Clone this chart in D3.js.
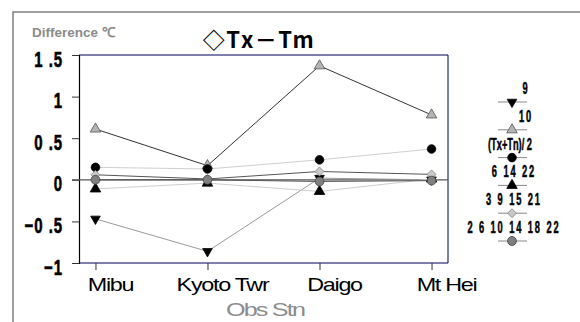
<!DOCTYPE html>
<html><head><meta charset="utf-8">
<script src="https://cdn.jsdelivr.net/npm/d3@7"></script>
<style>
body{margin:0;background:#fff;}
svg{display:block;}
</style></head>
<body>
<svg id="c" width="580" height="322"></svg>
<script>
const stations = ["Mibu", "Kyoto Twr", "Daigo", "Mt Hei"];
const seriesNames = ["9", "10", "(Tx+Tn)/ 2", "6 14 22", "3 9 15 21", "2 6 10 14 18 22"];
const s9 = [-0.47, -0.86, 0.02, 0.0];
const s10 = [0.61, 0.17, 1.37, 0.78];
const sAvg = [0.15, 0.13, 0.24, 0.37];
const s6_14_22 = [-0.11, -0.04, -0.14, 0.01];
const s3_9_15_21 = [0.06, 0.01, 0.10, 0.065];
const s2_6_10 = [0.0, 0.0, -0.02, -0.01];
const yTicks = [-1, -0.5, 0, 0.5, 1, 1.5];
const yTickLabels = ["\u22121", "\u22120 .5", "0", "0 .5", "1", "1 .5"];
const titleText = "\u25C7Tx\uFF0DTm";
const yTitle = "Difference \u2103";
const xTitle = "Obs Stn";

const seriesValues = [s9, s10, sAvg, s6_14_22, s3_9_15_21, s2_6_10];
const styles = [
  {line:"#9a9a9a", sym:d3.symbolTriangle, rot:180, fill:"#000", stroke:"#000", size:40},
  {line:"#333", sym:d3.symbolTriangle, rot:0, fill:"#b4b4b4", stroke:"#555", size:48},
  {line:"#d0d0d0", sym:d3.symbolCircle, rot:0, fill:"#000", stroke:"#000", size:58},
  {line:"#cfcfcf", sym:d3.symbolTriangle, rot:0, fill:"#000", stroke:"#000", size:48},
  {line:"#555", sym:d3.symbolSquare, rot:45, fill:"#c8c8c8", stroke:"#888", size:40},
  {line:"#555", sym:d3.symbolCircle, rot:0, fill:"#7f7f7f", stroke:"#444", size:62}
];

const svg = d3.select("#c");
const bold = "'Liberation Sans',Arial,sans-serif";

// outer border
svg.append("rect").attr("x",13).attr("y",12).attr("width",700).attr("height",400)
  .attr("fill","none").attr("stroke","#808080").attr("stroke-width",1.5);

const L=79, R=448, T=55, B=263;
const x = d3.scalePoint().domain(stations).range([L,R]).padding(0.147);
const y = d3.scaleLinear().domain([-1,1.5]).range([B,T]);

// plot frame
svg.append("path").attr("d",`M${L},${T}H${R}V${B}H${L}`).attr("fill","none").attr("stroke","#000060").attr("stroke-width",1);

// y axis
const ySx = 0.68;
const yAxis = d3.axisLeft(y).tickValues(yTicks).tickSize(7).tickPadding(9)
  .tickFormat((d,i)=>yTickLabels[i]);
const ya = svg.append("g").attr("transform",`translate(${L},0)`).call(yAxis);
ya.select(".domain").attr("stroke","#000").attr("stroke-width",1.2);
ya.selectAll(".tick line").attr("stroke","#333");
ya.selectAll("text").attr("font-family",bold).attr("font-weight","bold")
  .attr("font-size",22).attr("fill","#000").attr("stroke","#000").attr("stroke-width",0.6)
  .attr("letter-spacing","1.4px")
  .attr("x",-16/ySx).attr("dy","0.5em").attr("transform",`scale(${ySx},1)`);

// x axis
const xSx = 1.3;
const xAxis = d3.axisBottom(x).tickSize(7).tickPadding(8);
const xa = svg.append("g").attr("transform",`translate(0,${B})`).call(xAxis);
xa.select(".domain").remove();
xa.selectAll(".tick line").attr("stroke","#333");
xa.selectAll("text").attr("font-family",bold)
  .attr("font-size",18).attr("fill","#000").attr("letter-spacing","-1px")
  .attr("dx",14.5/xSx).attr("transform",`scale(${xSx},1)`);

// zero line
svg.append("line").attr("x1",L-7).attr("x2",R).attr("y1",y(0)).attr("y2",y(0))
  .attr("stroke","#555").attr("stroke-width",1.3);

const lineGen = d3.line().x((d,i)=>x(stations[i])).y(d=>y(d));
seriesValues.forEach((vals,si)=>{
  const st = styles[si];
  svg.append("path").datum(vals).attr("d",lineGen).attr("fill","none")
    .attr("stroke",st.line).attr("stroke-width",1);
});
seriesValues.forEach((vals,si)=>{
  const st = styles[si];
  svg.append("g").selectAll("path").data(vals).join("path")
    .attr("d",d3.symbol().type(st.sym).size(st.size))
    .attr("transform",(d,i)=>`translate(${x(stations[i])},${y(d)}) rotate(${st.rot})`)
    .attr("fill",st.fill).attr("stroke",st.stroke).attr("stroke-width",0.8);
});

// legend
const lgX = 512, lSx = 0.58;
const lg = svg.append("g");
seriesNames.forEach((name,i)=>{
  const st = styles[i];
  const ty = 94 + i*27.8;
  const my = ty + 8;
  const cx = lgX + (i<2 ? 14 : (i===2 ? -2 : 2));
  lg.append("text").attr("x", cx/lSx).attr("y",ty).attr("transform",`scale(${lSx},1)`)
    .attr("text-anchor","middle").attr("font-family",bold).attr("font-weight","bold")
    .attr("font-size",16).attr("stroke","#000").attr("stroke-width",0.5)
    .attr("letter-spacing", i===2 ? "0px" : "3.3px").attr("fill","#000").text(name);
  lg.append("line").attr("x1",lgX-14).attr("x2",lgX+15).attr("y1",my).attr("y2",my)
    .attr("stroke","#888").attr("stroke-width",1);
  lg.append("path").attr("d",d3.symbol().type(st.sym).size(st.size)())
    .attr("transform",`translate(${lgX},${my}) rotate(${st.rot})`)
    .attr("fill",st.fill).attr("stroke",st.stroke).attr("stroke-width",0.8);
});

// titles
svg.append("text").attr("x",259).attr("y",48).attr("text-anchor","middle")
  .attr("font-family","'Noto Sans CJK JP','Noto Sans',sans-serif").attr("font-weight","bold")
  .attr("font-size",22).attr("letter-spacing","1.5px").attr("fill","#000").text(titleText);
svg.append("text").attr("x",32).attr("y",37)
  .attr("font-family",bold).attr("font-weight","bold")
  .attr("font-size",13.5).attr("letter-spacing","0px").attr("fill","#8c8c8c").text(yTitle);
const oSx = 1.4;
svg.append("text").attr("x",265/oSx).attr("y",316).attr("text-anchor","middle")
  .attr("transform",`scale(${oSx},1)`)
  .attr("font-family",bold)
  .attr("font-size",18).attr("letter-spacing","-1.3px").attr("fill","#8c8c8c").text(xTitle);
</script>
</body></html>
